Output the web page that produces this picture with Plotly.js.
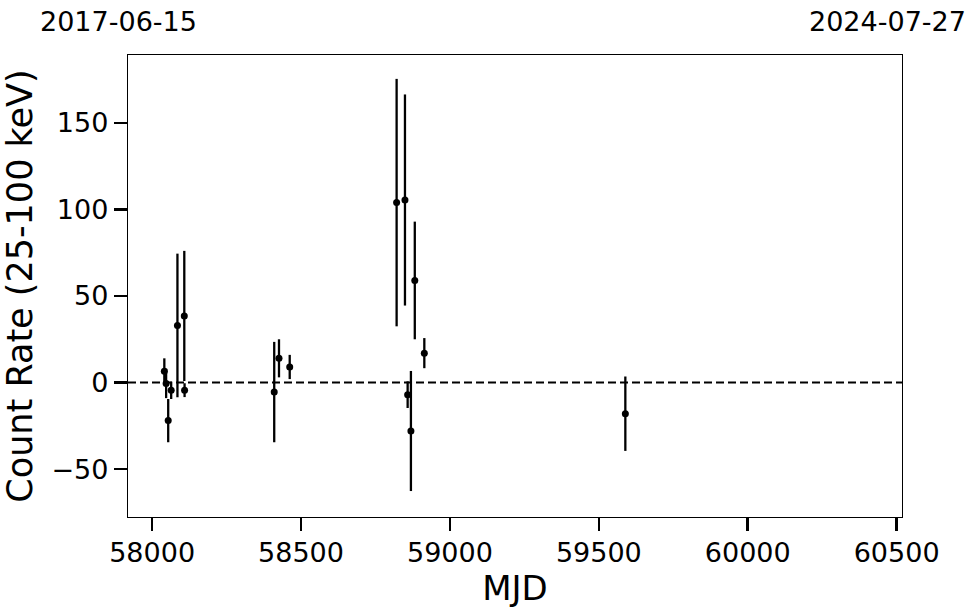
<!DOCTYPE html>
<html>
<head>
<meta charset="utf-8">
<script src="https://cdn.plot.ly/plotly-3.0.1.min.js"></script>
<style>html,body{margin:0;padding:0;background:#fff;}#chart{width:980px;height:613px;}</style>
</head>
<body>
<div id="chart"></div>
<script>
// MJD of each observation
const mjd = [58041, 58047, 58054, 58064, 58085, 58108, 58109, 58410, 58426, 58462, 58821, 58849, 58858, 58869, 58882, 58914, 59589];
// Count rate (25-100 keV)
const rate = [6.5, -0.5, -22, -4.5, 33, 38.5, -4.4, -5.5, 14, 9, 104, 105.5, -7, -28, 59, 17, -18];
// 1-sigma errors
const rateErr = [7.5, 8.5, 12.5, 5, 41.5, 37.6, 4, 29, 11, 7, 71.5, 61, 7.7, 34.7, 34, 8.7, 21.5];
// date labels at the ends of the MJD range
const startDate = "2017-06-15";
const endDate = "2024-07-27";
const xRange = [57919, 60518];
const yRange = [-77.7, 189.3];
const xTicks = [58000, 58500, 59000, 59500, 60000, 60500];
const yTicks = [-50, 0, 50, 100, 150];
const zeroLevel = 0;

const font = "DejaVu Sans, sans-serif";

const trace = {
  x: mjd, y: rate, type: 'scatter', mode: 'markers',
  marker: {color: 'black', size: 7},
  error_y: {type: 'data', array: rateErr, visible: true, color: 'black', thickness: 2.3, width: 0},
  hoverinfo: 'x+y', showlegend: false
};

const layout = {
  width: 980, height: 613,
  margin: {l: 128, r: 78, t: 55, b: 96},
  paper_bgcolor: 'white', plot_bgcolor: 'white',
  font: {family: font, color: 'black'},
  xaxis: {
    range: xRange, tickvals: xTicks, ticktext: xTicks.map(String),
    ticks: 'outside', ticklen: 13, tickwidth: 2.5, tickcolor: 'black', ticklabelstandoff: -2,
    tickfont: {size: 27, family: font}, showgrid: false, zeroline: false,
    showline: true, linecolor: 'black', linewidth: 1.2, mirror: true,
    title: {text: 'MJD', font: {size: 34, family: font}, standoff: 3}
  },
  yaxis: {
    range: yRange, tickvals: yTicks, ticktext: yTicks.map(v => v < 0 ? '\u2212' + Math.abs(v) : String(v)),
    ticks: 'outside', ticklen: 13, tickwidth: 2.5, tickcolor: 'black',
    tickfont: {size: 27, family: font}, showgrid: false, zeroline: false,
    showline: true, linecolor: 'black', linewidth: 1.2, mirror: true,
    title: {text: 'Count Rate (25-100 keV)', font: {size: 35, family: font}, standoff: 8}
  },
  shapes: [{
    type: 'line', xref: 'paper', x0: 0, x1: 1, yref: 'y', y0: zeroLevel, y1: zeroLevel,
    line: {color: 'black', width: 2, dash: '8px,4px'}, layer: 'below'
  }],
  annotations: [
    {text: startDate, xref: 'paper', yref: 'paper', x: -0.116, y: 1.0725, xanchor: 'left', yanchor: 'middle',
     showarrow: false, font: {size: 27, family: font}},
    {text: endDate, xref: 'paper', yref: 'paper', x: 1.085, y: 1.0725, xanchor: 'right', yanchor: 'middle',
     showarrow: false, font: {size: 27, family: font}}
  ]
};

Plotly.newPlot('chart', [trace], layout, {displayModeBar: false, staticPlot: true});
</script>
</body>
</html>
